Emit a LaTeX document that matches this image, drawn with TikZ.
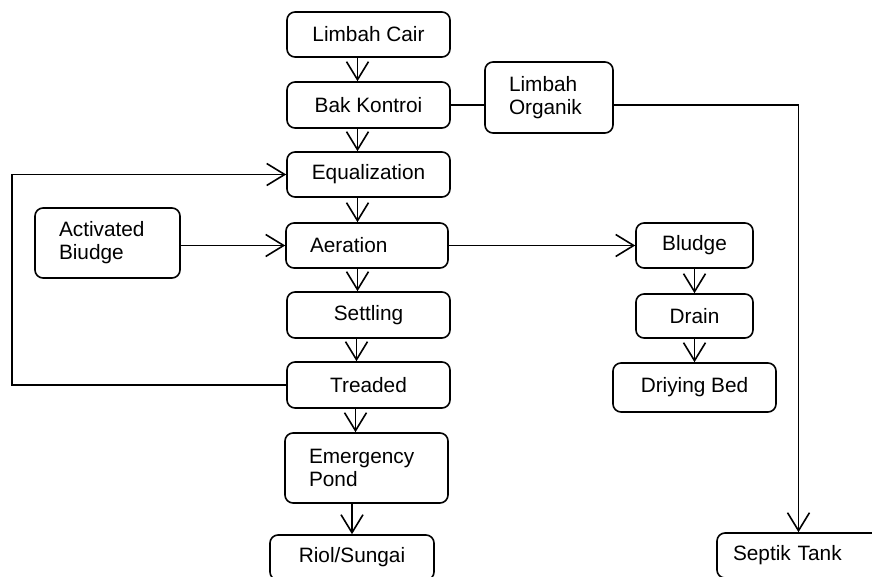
\documentclass[tikz,border=0pt]{standalone}
\usepackage{fontspec}
\setmainfont{Liberation Sans}
\usetikzlibrary{arrows.meta}
\tikzset{
  box/.style={draw, line width=0.8pt, rounded corners=4pt, inner sep=0pt,
    font=\fontsize{10.4}{11.5}\selectfont},
  lbox/.style={box, align=left, inner xsep=12pt, text width=#1},
  flow/.style={line width=0.8pt, -{Straight Barb[length=9pt,width=11pt]}},
  link/.style={line width=0.8pt}
}
\begin{document}
\begin{tikzpicture}[x=0.5pt, y=-0.5pt]
  \useasboundingbox (0,0) rectangle (872,577);
  % main line
  \node[box, minimum width=81.5pt, minimum height=22.5pt] (cair) at (368.5,34.5) {Limbah Cair};
  \node[box, minimum width=81.5pt, minimum height=23pt] (kontrol) at (368.5,105) {Bak Kontroi};
  \node[box, minimum width=81.5pt, minimum height=22.5pt] (equal) at (368.5,174.5) {Equalization};
  \node[lbox=57pt, minimum height=22.5pt] (aeration) at (367,245.5) {Aeration};
  \node[box, minimum width=81.5pt, minimum height=23pt] (settling) at (368.5,315) {Settling};
  \node[box, minimum width=81.5pt, minimum height=23pt] (treaded) at (368.5,385) {Treaded};
  \node[lbox=57.5pt, minimum height=35pt] (pond) at (366.5,468) {Emergency\\Pond};
  \node[box, minimum width=82pt, minimum height=22.5pt] (riol) at (352,557.5) {Riol/Sungai};
  % side boxes
  \node[lbox=40pt, minimum height=35.5pt] (organik) at (549,97.5) {Limbah\\Organik};
  \node[lbox=48.5pt, minimum height=35pt] (activ) at (107.5,243) {Activated\\Biudge};
  \node[box, minimum width=58.5pt, minimum height=22.5pt] (bludge) at (694.5,245.5) {Bludge};
  \node[box, minimum width=58.5pt, minimum height=22pt] (drain) at (694.5,316) {Drain};
  \node[box, minimum width=81.5pt, minimum height=24.5pt] (drying) at (694.5,387.5) {Driying Bed};
  \node[lbox=65.5pt, inner xsep=8pt, minimum height=22.5pt] (septik) at (798.5,555.5) {Septik Tank};
  \coordinate (back) at (12,385);
  % connectors
  \draw[flow] ([xshift=-5.5pt]cair.south) -- ([xshift=-5.5pt]kontrol.north);
  \draw[flow] ([xshift=-5.5pt]kontrol.south) -- ([xshift=-5.5pt]equal.north);
  \draw[flow] ([xshift=-5.5pt]equal.south) -- ([xshift=-5.5pt]equal.south |- aeration.north);
  \draw[flow] ([xshift=-5.5pt]equal.south |- aeration.south) -- ([xshift=-5.5pt]equal.south |- settling.north);
  \draw[flow] ([xshift=-6pt]settling.south) -- ([xshift=-6pt]treaded.north);
  \draw[flow] ([xshift=-6.5pt]treaded.south) -- ([xshift=-6.5pt]treaded.south |- pond.north);
  \draw[flow] (pond.south -| riol.north) -- (riol.north);
  \draw[flow] (treaded.west) -| (back) |- (equal.west);
  \draw[flow] (activ.east |- aeration.west) -- (aeration.west);
  \draw[flow] (aeration.east) -- (bludge.west);
  \draw[flow] (bludge) -- (drain);
  \draw[flow] (drain) -- (drying);
  \draw[link] (kontrol.east) -- (kontrol.east -| organik.west);
  \draw[flow] (kontrol.east -| organik.east) -| (septik.north);
\end{tikzpicture}
\end{document}
